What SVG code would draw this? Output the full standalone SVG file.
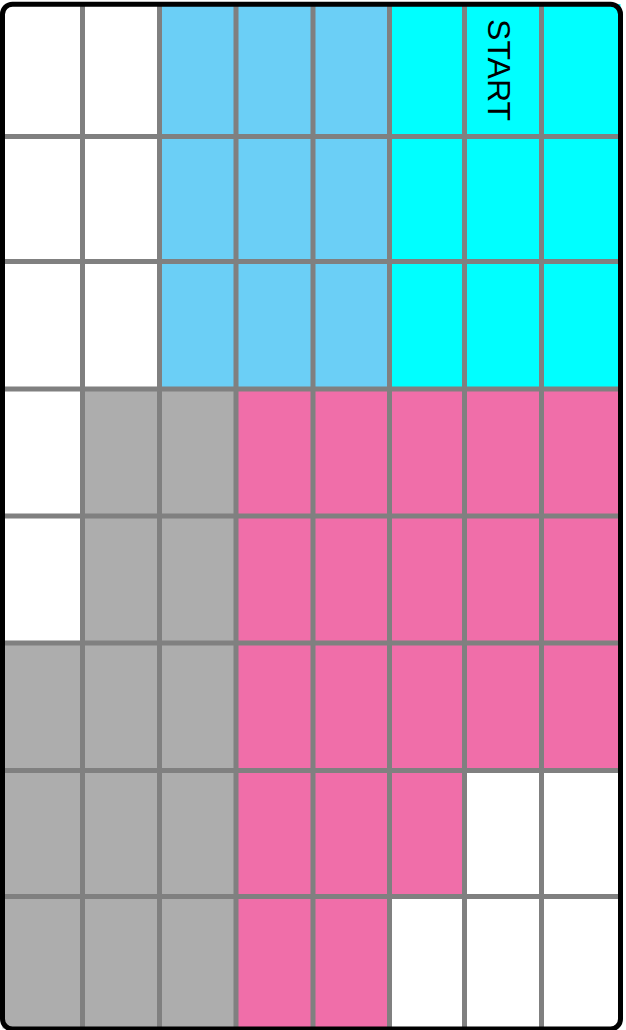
<svg xmlns="http://www.w3.org/2000/svg" width="626" height="1030" viewBox="0 0 626 1030">
  <style>
    .grid line { stroke: #808080; stroke-width: 5; }
    .blue { fill: #6BCFF6; }
    .cyan { fill: #00FFFF; }
    .gray { fill: #ADADAD; }
    .pink { fill: #F06EA9; }
    .label { font-family: "Liberation Sans", Arial, sans-serif; font-size: 32px; fill: #000; }
  </style>
  <rect x="0" y="0" width="626" height="1030" fill="#FFFFFF"/>
  <g id="region-blue">
    <rect class="blue" x="159.5" y="4" width="230" height="385"/>
  </g>
  <g id="region-cyan">
    <rect class="cyan" x="389.5" y="4" width="231" height="385"/>
    <text class="label" text-anchor="middle" dominant-baseline="central" transform="translate(498.5,70) rotate(90)">START</text>
  </g>
  <g id="region-gray">
    <polygon class="gray" points="82.5,389 236,389 236,1028.5 2.5,1028.5 2.5,643 82.5,643"/>
  </g>
  <g id="region-pink">
    <polygon class="pink" points="236,389 620.5,389 620.5,770.5 464.5,770.5 464.5,896.5 389.5,896.5 389.5,1028.5 236,1028.5"/>
  </g>
  <g id="connectors" class="grid">
    <line x1="82.5" y1="4" x2="82.5" y2="1028"/>
    <line x1="159.5" y1="4" x2="159.5" y2="1028"/>
    <line x1="236" y1="4" x2="236" y2="1028"/>
    <line x1="313" y1="4" x2="313" y2="1028"/>
    <line x1="389.5" y1="4" x2="389.5" y2="1028"/>
    <line x1="464.5" y1="4" x2="464.5" y2="1028"/>
    <line x1="541.5" y1="4" x2="541.5" y2="1028"/>
    <line x1="2.5" y1="136.5" x2="620.5" y2="136.5"/>
    <line x1="2.5" y1="261.5" x2="620.5" y2="261.5"/>
    <line x1="2.5" y1="389" x2="620.5" y2="389"/>
    <line x1="2.5" y1="516" x2="620.5" y2="516"/>
    <line x1="2.5" y1="643" x2="620.5" y2="643"/>
    <line x1="2.5" y1="770.5" x2="620.5" y2="770.5"/>
    <line x1="2.5" y1="896.5" x2="620.5" y2="896.5"/>
  </g>
  <rect id="frame" x="2.5" y="4.2" width="618" height="1024.8" rx="10" ry="10" fill="none" stroke="#000000" stroke-width="5"/>
</svg>
